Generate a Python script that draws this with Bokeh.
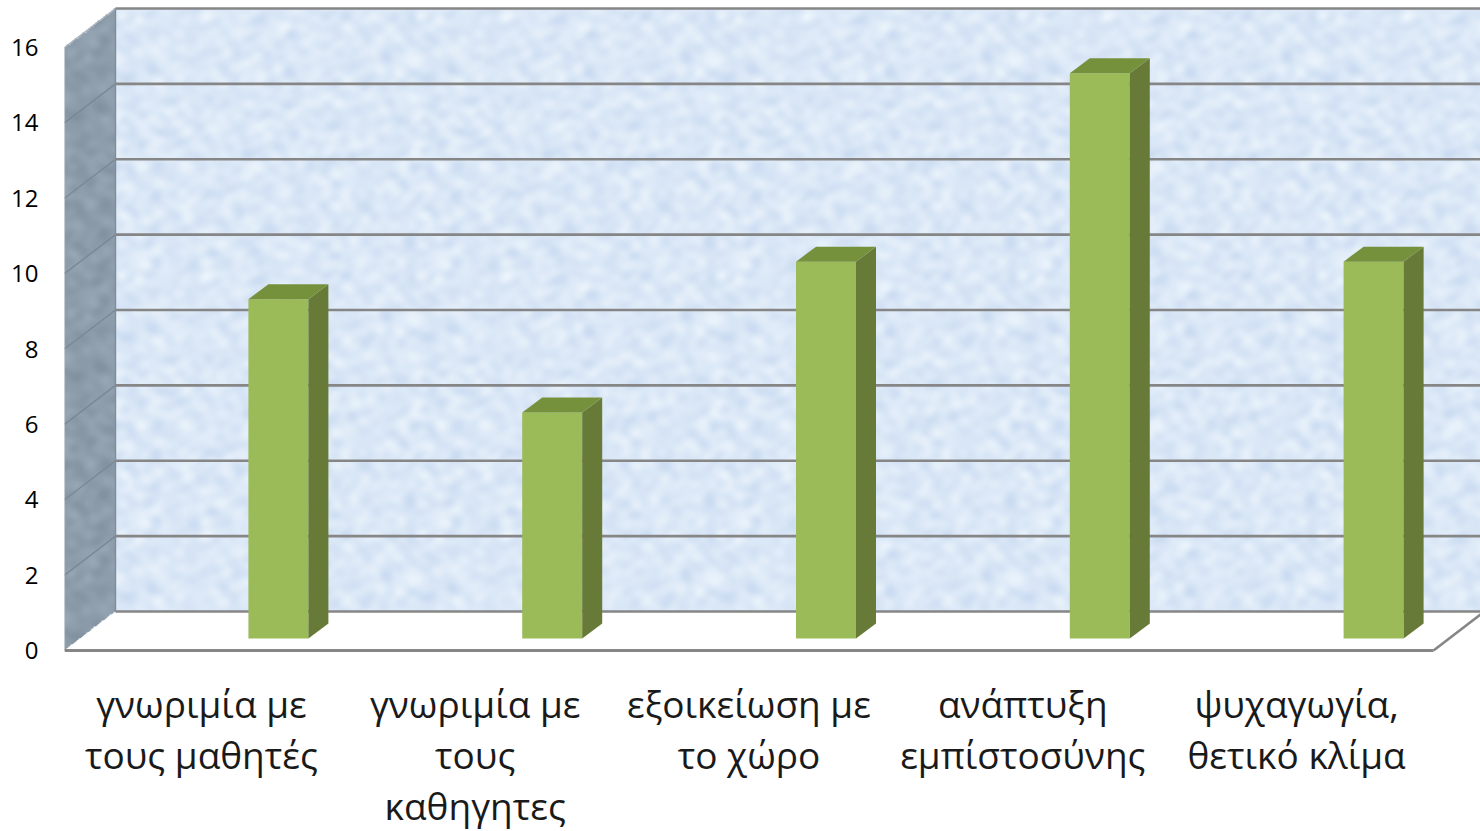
import numpy as np
from bokeh.plotting import figure
from bokeh.models import Range1d, FixedTicker
from bokeh.embed import file_html
from bokeh.resources import INLINE

categories = ["γνωριμία με\nτους μαθητές", "γνωριμία με\nτους\nκαθηγητες",
              "εξοικείωση με\nτο χώρο", "ανάπτυξη\nεμπίστοσύνης", "ψυχαγωγία,\nθετικό κλίμα"]
values = [9, 6, 10, 15, 10]
y_ticks = [0, 2, 4, 6, 8, 10, 12, 14, 16]

W, H = 1480, 831
# pixel scale of the chart (x 64 -> 0, 1433 -> 5; y 650 -> 0, 47 -> 16)
PX = (1433 - 64) / 5
PY = (650 - 47) / 16
WALL_DX, WALL_DY = 51 / PX, 39 / PY
BAR_DX, BAR_DY = 20 / PX, 15 / PY
BAR_W = 60 / PX
BAR_SHIFT = 77 / PX
BAR_BASE = 12 / PY

GRID = "#868686"


def texture(w, h, base, amp, tint):
    """Deterministic mottled texture made from a fixed table of sines."""
    yy, xx = np.mgrid[0:h, 0:w]
    n = np.zeros((h, w))
    for k in range(1, 160):
        fx = (k * k * 7) % 41 - 20
        fy = (k * k * k * 3 + k) % 37 - 18
        if fx == 0 and fy == 0:
            continue
        n += np.sin(2 * np.pi * (fx * xx / 150 + fy * yy / 130) + k * 2.399) / (1 + 0.1 * np.hypot(fx, fy))
    n /= n.std()
    rgba = np.zeros((h, w, 4), dtype=np.uint8)
    for c in range(3):
        rgba[..., c] = np.clip(base[c] + amp * tint[c] * n, 0, 255)
    rgba[..., 3] = 255
    return rgba


def u32(a):
    return a.view(np.uint32).reshape(a.shape[:2]).copy()


p = figure(width=W, height=H, output_backend="svg", toolbar_location=None,
           x_range=Range1d(0, (W - 64) / PX), y_range=Range1d(-(H - 650) / PY, 650 / PY),
           min_border_left=64, min_border_top=0, min_border_right=0, min_border_bottom=0,
           outline_line_color=None, background_fill_color="white", border_fill_color="white")
p.grid.visible = False

# back wall
wall = texture(684, 302, (219, 232, 247), 5, (1.0, 0.75, 0.3))
p.image_rgba(image=[u32(wall)], x=WALL_DX, y=WALL_DY, dw=5, dh=16)

# left wall
h_side = int(round((16 + WALL_DY) * PY / 2))
w_side = int(round(WALL_DX * PX / 2))
side = texture(w_side, h_side, (141, 157, 171), 4, (1, 1, 1))
yy, xx = np.mgrid[0:h_side, 0:w_side]
fx = (xx + 0.5) / w_side
fy = (yy + 0.5) / h_side * (16 + WALL_DY)
side[..., 3] = np.where((fy >= fx * WALL_DY) & (fy <= 16 + fx * WALL_DY), 255, 0)
p.image_rgba(image=[u32(side)], x=0, y=0, dw=WALL_DX, dh=16 + WALL_DY)

# floor
p.patch([0, 5, 5 + WALL_DX, WALL_DX], [0, 0, WALL_DY, WALL_DY], fill_color="white", line_color=None)

# grid lines on back wall and side wall
for t in y_ticks:
    p.line([WALL_DX, 5 + WALL_DX], [t + WALL_DY, t + WALL_DY], line_color=GRID, line_width=2.6)
    if 0 < t < 16:
        p.line([0, WALL_DX], [t, t + WALL_DY], line_color="#7a8894", line_width=1.4)
p.line([5, 5 + WALL_DX], [0, WALL_DY], line_color=GRID, line_width=2.6)
p.line([0, WALL_DX], [16, 16 + WALL_DY], line_color="#a9b3bc", line_width=1.2)
p.line([0, 0], [0, 16], line_color="#a9b3bc", line_width=1.2)
p.line([WALL_DX, WALL_DX], [WALL_DY, 16 + WALL_DY], line_color="#7f8d99", line_width=1.4)

# bars
lefts = [i + 0.5 + BAR_SHIFT - BAR_W / 2 for i in range(len(values))]
rights = [l + BAR_W for l in lefts]
tops = [v + BAR_BASE for v in values]
p.quad(left=lefts, right=rights, bottom=BAR_BASE, top=tops, fill_color="#9BBB59", line_color=None)
p.patches([[r, r + BAR_DX, r + BAR_DX, r] for r in rights],
          [[BAR_BASE, BAR_BASE + BAR_DY, t + BAR_DY, t] for t in tops],
          fill_color="#677A37", line_color=None)
p.patches([[l, r, r + BAR_DX, l + BAR_DX] for l, r in zip(lefts, rights)],
          [[t, t, t + BAR_DY, t + BAR_DY] for t in tops],
          fill_color="#76913C", line_color=None)

# axes
ya = p.yaxis[0]
ya.ticker = FixedTicker(ticks=y_ticks)
ya.bounds = (0, 16)
ya.axis_line_color = None
ya.major_tick_line_color = None
ya.minor_tick_line_color = None
ya.major_label_standoff = 20
ya.major_label_text_font = "Open Sans"
ya.major_label_text_font_size = "24px"
ya.major_label_text_color = "black"

xa = p.xaxis[0]
xa.fixed_location = 0
xa.ticker = FixedTicker(ticks=[i + 0.5 for i in range(len(categories))])
xa.major_label_overrides = {i + 0.5: c for i, c in enumerate(categories)}
xa.bounds = (0, 5)
xa.axis_line_color = GRID
xa.axis_line_width = 3
xa.major_tick_line_color = None
xa.minor_tick_line_color = None
xa.major_label_standoff = 21
xa.major_label_text_font = "Open Sans"
xa.major_label_text_font_size = "37px"
xa.major_label_text_color = "#1a1a1a"
xa.major_label_text_line_height = 1.0

open("out.html", "w").write(file_html(p, INLINE))
